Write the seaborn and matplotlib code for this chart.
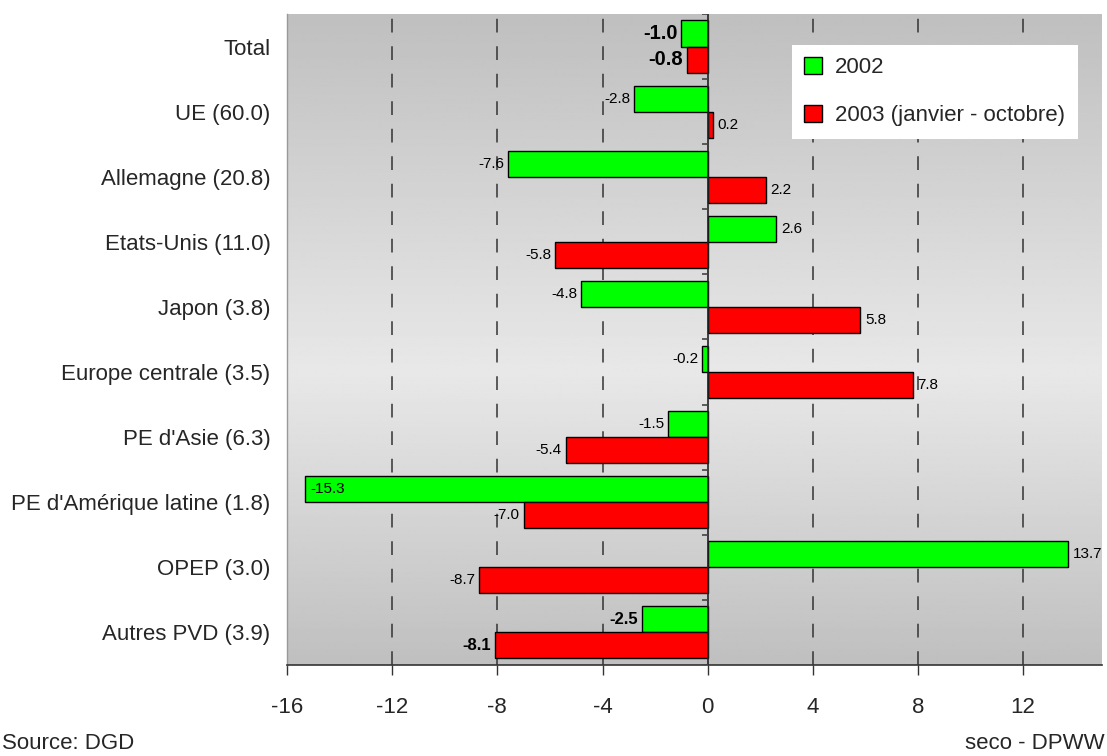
import numpy as np
import pandas as pd
import matplotlib
matplotlib.use("Agg")
import matplotlib.pyplot as plt
from matplotlib.patches import Patch
import seaborn as sns

# Export growth by destination, in %
categories = ["Total", "UE (60.0)", "Allemagne (20.8)", "Etats-Unis (11.0)", "Japon (3.8)",
              "Europe centrale (3.5)", "PE d'Asie (6.3)", "PE d'Amérique latine (1.8)",
              "OPEP (3.0)", "Autres PVD (3.9)"]
series_names = ["2002", "2003 (janvier - octobre)"]
values_2002 = [-1.0, -2.8, -7.6, 2.6, -4.8, -0.2, -1.5, -15.3, 13.7, -2.5]
values_2003 = [-0.8, 0.2, 2.2, -5.8, 5.8, 7.8, -5.4, -7.0, -8.7, -8.1]
x_ticks = [-16, -12, -8, -4, 0, 4, 8, 12]
source_text = "Source: DGD"
credit_text = "seco - DPWW"

colors = {"2002": "#00ff00", "2003 (janvier - octobre)": "#ff0000"}
# label font size / weight per category (headline rows in bold)
label_style = {"Total": (14.5, "bold"), "Autres PVD (3.9)": (12, "bold")}

df = pd.DataFrame({
    "pays": categories * 2,
    "serie": [series_names[0]] * len(categories) + [series_names[1]] * len(categories),
    "valeur": values_2002 + values_2003,
})

sns.set_theme(style="white")
plt.rcParams["font.family"] = ["Liberation Sans", "DejaVu Sans"]

fig = plt.figure(figsize=(11.07, 7.56), dpi=100)
ax = fig.add_axes([0.2593, 0.1204, 0.7362, 0.8611])

xmin, xmax = -16, 15
n = len(categories)

# vertical grey gradient background
stops_y = np.array([0.0, 0.55, 1.0])
stops_v = np.array([0.75, 0.91, 0.75])
yy = np.linspace(0, 1, 300)
grad = np.interp(yy, stops_y, stops_v)[:, None]
ax.imshow(grad, extent=[xmin, xmax, n - 0.5, -0.5], aspect="auto", cmap="gray",
          vmin=0, vmax=1, zorder=0, interpolation="bilinear")

sns.barplot(data=df, y="pays", x="valeur", hue="serie", orient="h",
            palette=colors, width=0.8, edgecolor="black", linewidth=1.0,
            saturation=1, ax=ax, legend=False, zorder=3)

ax.set_xlim(xmin, xmax)
ax.set_ylim(n - 0.5, -0.5)

# dashed grid lines
for t in x_ticks:
    if t not in (xmin, 0):
        ax.axvline(t, color="#333333", lw=1.1, ls=(0, (9, 9)), zorder=1)
ax.axvline(0, color="#222222", lw=1.2, zorder=4)

# small separators on the zero line between categories
bounds = np.arange(n + 1) - 0.5
ax.hlines(bounds, -0.2, 0, color="#444444", lw=1.2, zorder=4)

# value labels
all_vals = values_2002 + values_2003
for cont, vals in zip(ax.containers, [values_2002, values_2003]):
    for patch, v, cat in zip(cont.patches, vals, categories):
        yc = patch.get_y() + patch.get_height() / 2
        fs, fw = label_style.get(cat, (11, "normal"))
        if v == min(all_vals):
            x, ha = v + 0.2, "left"
        elif v < 0:
            x, ha = v - 0.15, "right"
        else:
            x, ha = v + 0.18, "left"
        ax.text(x, yc, f"{v:.1f}", ha=ha, va="center", fontsize=fs,
                fontweight=fw, zorder=5, color="black")

ax.set_xticks(x_ticks)
ax.set_xticklabels([str(t) for t in x_ticks])
ax.set_xlabel("")
ax.set_ylabel("")
ax.tick_params(axis="x", direction="out", length=7, width=1, color="#333333",
               pad=16, labelsize=16, bottom=True)
ax.tick_params(axis="y", length=0, pad=12, labelsize=16)
ax.set_yticks(range(n))
ax.set_yticklabels(categories)

for side in ["top", "right"]:
    ax.spines[side].set_visible(False)
ax.spines["bottom"].set_color("#333333")
ax.spines["bottom"].set_linewidth(1.2)
ax.spines["left"].set_color("#999999")
ax.spines["left"].set_linewidth(1.0)

handles = [Patch(facecolor=colors[s], edgecolor="black", linewidth=1, label=s)
           for s in series_names]
leg = ax.legend(handles=handles, loc="upper left", bbox_to_anchor=(0.6196, 0.9524),
                fontsize=16, frameon=True, fancybox=False, framealpha=1,
                edgecolor="white", facecolor="white", handlelength=0.8,
                handleheight=0.8, handletextpad=0.6, labelspacing=1.2,
                borderpad=0.55, borderaxespad=0)
leg.get_frame().set_linewidth(0)
leg.set_zorder(6)

fig.text(0.002, 0.002, source_text, ha="left", va="bottom", fontsize=16)
fig.text(0.998, 0.002, credit_text, ha="right", va="bottom", fontsize=16)

fig.savefig("out.png", dpi=100)
